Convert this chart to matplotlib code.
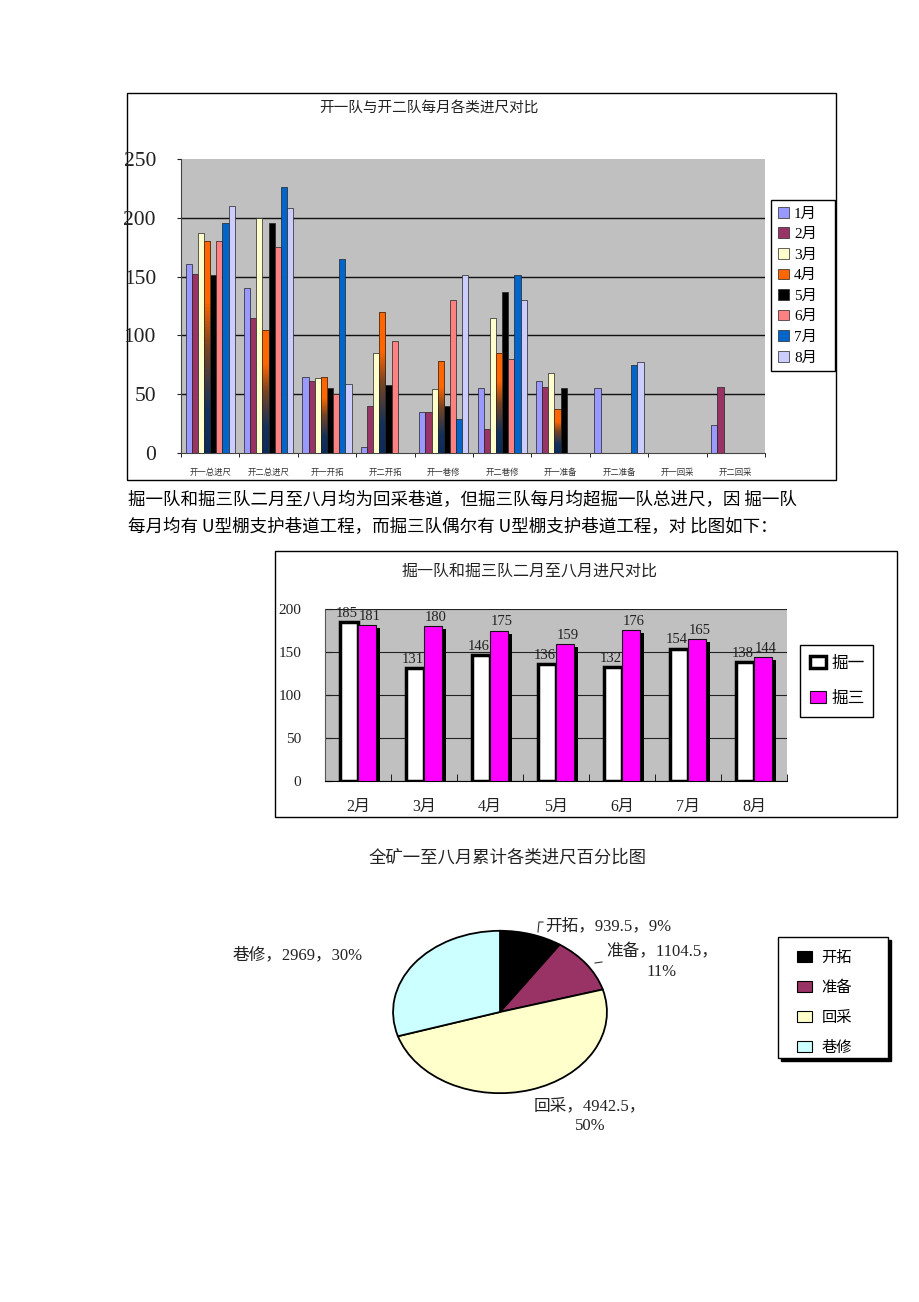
import numpy as np
import matplotlib.pyplot as plt
from matplotlib.patches import Rectangle, Patch
from matplotlib.colors import LinearSegmentedColormap

SERIF = ['Liberation Serif', 'Noto Sans CJK SC']
SANS = ['Noto Sans CJK SC', 'DejaVu Sans']
plt.rcParams['font.family'] = SERIF

W, H = 920, 1302

# 图一：开一队与开二队每月各类进尺
cats1 = ['开一总进尺', '开二总进尺', '开一开拓', '开二开拓', '开一巷修',
         '开二巷修', '开一准备', '开二准备', '开一回采', '开二回采']
months1 = ['1月', '2月', '3月', '4月', '5月', '6月', '7月', '8月']
m1 = [161, 140, 65, 5, 35, 55, 61, 55, 0, 24]
m2 = [152, 115, 61, 40, 35, 20, 56, 0, 0, 56]
m3 = [187, 200, 64, 85, 54, 115, 68, 0, 0, 0]
m4 = [180, 105, 65, 120, 78, 85, 37, 0, 0, 0]
m5 = [151, 196, 55, 58, 40, 137, 55, 0, 0, 0]
m6 = [180, 175, 50, 95, 130, 80, 0, 0, 0, 0]
m7 = [196, 226, 165, 0, 29, 151, 0, 75, 0, 0]
m8 = [210, 208, 59, 0, 151, 130, 0, 77, 0, 0]
series1 = [m1, m2, m3, m4, m5, m6, m7, m8]
colors1 = ['#9999FF', '#993366', '#FFFFCC', '#FF6600',
           '#000000', '#FF8080', '#0066CC', '#CCCCFF']

# 图二：掘一队和掘三队
months2 = ['2月', '3月', '4月', '5月', '6月', '7月', '8月']
jue1 = [185, 131, 146, 136, 132, 154, 138]
jue3 = [181, 180, 175, 159, 176, 165, 144]

# 图三：全矿累计
pie_names = ['开拓', '准备', '回采', '巷修']
pie_vals = [939.5, 1104.5, 4942.5, 2969]
pie_colors = ['#000000', '#993366', '#FFFFCC', '#CCFFFF']


def rect(x0, y0, x1, y1):
    # 像素坐标 -> figure 坐标
    return [x0 / W, 1 - y1 / H, (x1 - x0) / W, (y1 - y0) / H]


fig = plt.figure(figsize=(W / 100, H / 100), dpi=100)


def ftext(x, y, s, **kw):
    # 用像素坐标写在最上层
    return fig.text(x / W, 1 - y / H, s, **kw)


# 底层：边框和正文
bg = fig.add_axes([0, 0, 1, 1])
bg.set_xlim(0, W)
bg.set_ylim(H, 0)
bg.axis('off')
bg.add_patch(Rectangle((127, 93), 709, 387, fill=False, ec='black', lw=1))
bg.add_patch(Rectangle((275, 551), 622, 266, fill=False, ec='black', lw=1))

bg.text(429, 108, '开一队与开二队每月各类进尺对比', ha='center', va='center',
        fontsize=10.5, family=SANS, color='#222222')
bg.text(128, 500, '掘一队和掘三队二月至八月均为回采巷道，但掘三队每月均超掘一队总进尺，因 掘一队',
        ha='left', va='center', fontsize=12.6, family=SANS)
bg.text(128, 527, '每月均有 U型棚支护巷道工程，而掘三队偶尔有 U型棚支护巷道工程，对 比图如下：',
        ha='left', va='center', fontsize=12.6, family=SANS)
bg.text(530, 572, '掘一队和掘三队二月至八月进尺对比', ha='center', va='center',
        fontsize=11.5, family=SANS, color='#222222')
bg.text(508, 857, '全矿一至八月累计各类进尺百分比图', ha='center', va='center',
        fontsize=12.5, family=SANS, color='#222222')

# ---------------- 图一 ----------------
ax1 = fig.add_axes(rect(181, 159, 765, 453))
ax1.set_facecolor('#C0C0C0')
x1 = np.arange(len(cats1))
bw = 0.105
grad = LinearSegmentedColormap.from_list(
    'g', [(0, '#0B2B5C'), (0.2, '#13315A'), (0.5, '#7A4422'), (0.72, '#FF6600'), (1, '#FF6600')])
for i, vals in enumerate(series1):
    bars = ax1.bar(x1 + (i - 3.5) * bw, vals, bw, color=colors1[i],
                   edgecolor='#222222', lw=0.5, zorder=3, label=months1[i])
    if i == 3:
        for b in bars:
            h = b.get_height()
            if h <= 0:
                continue
            im = ax1.imshow(np.linspace(0, 1, 64).reshape(-1, 1), origin='lower',
                            extent=[b.get_x(), b.get_x() + b.get_width(), 0, h],
                            aspect='auto', cmap=grad, zorder=3.1)
            im.set_clip_path(b)
            ax1.bar(b.get_x() + b.get_width() / 2, h, b.get_width(), fill=False,
                    edgecolor='#222222', lw=0.5, zorder=3.2)
ax1.set_xlim(-0.5, len(cats1) - 0.5)
ax1.set_ylim(0, 250)
yt1 = [0, 50, 100, 150, 200, 250]
ax1.set_yticks(yt1)
ax1.hlines(yt1[1:-1], -0.5, len(cats1) - 0.5, colors='#111111', lw=1, zorder=1)
ax1.tick_params(axis='y', labelsize=15.5, length=3, pad=15, colors='#222222')
ax1.set_xticks(x1)
ax1.set_xticklabels(cats1, fontsize=6, family=SANS, color='#333333')
ax1.set_xticks(np.arange(len(cats1) + 1) - 0.5, minor=True)
ax1.tick_params(axis='x', which='major', length=0, pad=11)
ax1.tick_params(axis='x', which='minor', length=3)
for s in ['top', 'right']:
    ax1.spines[s].set_visible(False)
ax1.spines['left'].set_color('#444444')
ax1.spines['bottom'].set_color('#444444')

h1, l1 = ax1.get_legend_handles_labels()
fig.legend(h1[:8], l1[:8], loc='upper left',
           bbox_to_anchor=(771 / W, 1 - 200 / H, 64 / W, 0), mode='expand',
           frameon=True, fancybox=False, edgecolor='black', framealpha=1,
           fontsize=11, handlelength=0.7, handleheight=0.7, handletextpad=0.35,
           labelspacing=0.45, borderpad=0.45, borderaxespad=0)

# ---------------- 图二 ----------------
ax2 = fig.add_axes(rect(325, 609, 787, 781))
ax2.set_facecolor('#C0C0C0')
x2 = np.arange(len(months2))
bw2 = 0.28
dx, dy = 0.06, 3.5
ax2.bar(x2 - bw2 / 2 + dx, np.array(jue1) - dy, bw2, color='black', zorder=2)
ax2.bar(x2 + bw2 / 2 + dx, np.array(jue3) - dy, bw2, color='black', zorder=2)
b21 = ax2.bar(x2 - bw2 / 2, jue1, bw2, color='white', edgecolor='black', lw=2.5,
              zorder=3, label='掘一')
b23 = ax2.bar(x2 + bw2 / 2, jue3, bw2, color='#FF00FF', edgecolor='#111111', lw=0.8,
              zorder=3, label='掘三')
for bars, vals, sh in [(b21, jue1, -1.5), (b23, jue3, 1.5)]:
    for b, v in zip(bars, vals):
        ax2.annotate(str(v), (b.get_x() + b.get_width() / 2, v), xytext=(sh, 1.5),
                     textcoords='offset points', ha='center', va='bottom',
                     fontsize=10.5, color='#222222', zorder=4)
ax2.set_xlim(-0.5, len(months2) - 0.5)
ax2.set_ylim(0, 200)
ax2.set_yticks([0, 50, 100, 150, 200])
ax2.yaxis.grid(True, color='#222222', lw=0.8)
ax2.set_axisbelow(True)
ax2.tick_params(axis='y', labelsize=11, direction='in', length=5, pad=17, colors='#222222')
ax2.set_xticks(x2)
ax2.set_xticklabels(months2, fontsize=11.5, color='#222222')
ax2.set_xticks(np.arange(len(months2) + 1) - 0.5, minor=True)
ax2.tick_params(axis='x', which='major', length=0, pad=13)
ax2.tick_params(axis='x', which='minor', direction='in', length=5)
for s in ['top', 'right']:
    ax2.spines[s].set_visible(False)
ax2.spines['left'].set_color('#555555')
fig.legend(handles=[b21, b23], loc='upper left',
           bbox_to_anchor=(800 / W, 1 - 645 / H, 73 / W, 0), mode='expand',
           frameon=True, fancybox=False, edgecolor='black', framealpha=1,
           prop={'family': SANS, 'size': 12}, handlelength=0.95, handleheight=0.7,
           handletextpad=0.35, labelspacing=1.05, borderpad=0.6, borderaxespad=0)

# ---------------- 图三 ----------------
ax3 = fig.add_axes(rect(392, 930, 608, 1094))
wedges, _ = ax3.pie(pie_vals, colors=pie_colors, startangle=90, counterclock=False,
                    wedgeprops={'edgecolor': 'black', 'linewidth': 1.3})
ax3.set_aspect('auto')
ax3.set_xlim(-1.01, 1.01)
ax3.set_ylim(-1.01, 1.01)
ax3.axis('off')

total = sum(pie_vals)
pct = [round(v / total * 100) for v in pie_vals]
lab = [f'{n}，{v:g}，{p}%' for n, v, p in zip(pie_names, pie_vals, pct)]
wrap = [f'{n}，{v:g}，\n{p}%' for n, v, p in zip(pie_names, pie_vals, pct)]
lkw = dict(fontsize=12, color='#222222', va='center')
ftext(545, 926, lab[0], ha='left', **lkw)
ftext(662, 962, wrap[1], ha='center', multialignment='center', linespacing=1.25, **lkw)
ftext(590, 1116, wrap[2], ha='center', multialignment='center', linespacing=1.25, **lkw)
ftext(233, 955, lab[3], ha='left', **lkw)
bg.plot([538, 539, 543], [932, 922, 922], color='#333333', lw=0.8)
bg.plot([595, 602], [963, 962], color='#333333', lw=0.8)

# 图例框（带阴影）
bg.add_patch(Rectangle((781, 940), 110, 121, fc='black', ec='black', lw=1))
bg.add_patch(Rectangle((778, 937), 110, 121, fc='white', ec='black', lw=1))
fig.legend(handles=[Patch(facecolor=c, edgecolor='black', lw=0.8, label=n)
                    for n, c in zip(pie_names, pie_colors)],
           loc='upper left', bbox_to_anchor=(797 / W, 1 - 949 / H),
           frameon=False, prop={'family': SANS, 'size': 11},
           handlelength=1.0, handleheight=0.7, handletextpad=0.6,
           labelspacing=0.85, borderpad=0, borderaxespad=0)

fig.savefig('out.png', dpi=100)
